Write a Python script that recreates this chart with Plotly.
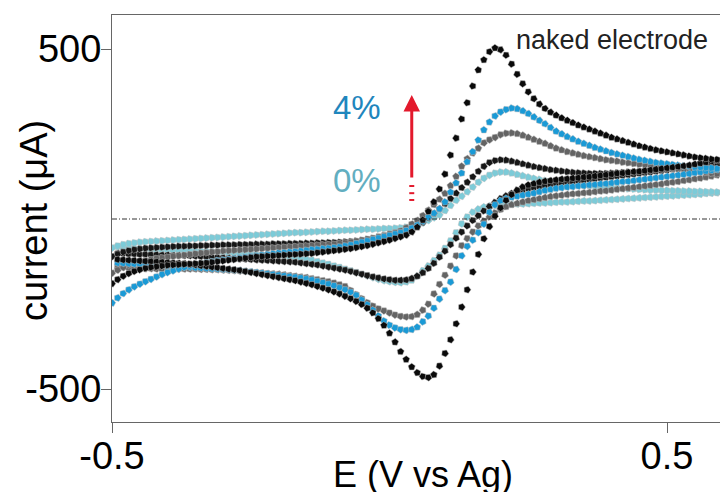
import plotly.graph_objects as go

# Potential grid (V vs Ag), shared by all scans
E = [-0.50, -0.49, -0.48, -0.47, -0.46, -0.45, -0.44, -0.43, -0.42, -0.41,
     -0.40, -0.39, -0.38, -0.37, -0.36, -0.35, -0.34, -0.33, -0.32, -0.31,
     -0.30, -0.29, -0.28, -0.27, -0.26, -0.25, -0.24, -0.23, -0.22, -0.21,
     -0.20, -0.19, -0.18, -0.17, -0.16, -0.15, -0.14, -0.13, -0.12, -0.11,
     -0.10, -0.09, -0.08, -0.07, -0.06, -0.05, -0.04, -0.03, -0.02, -0.01,
     0.00, 0.01, 0.02, 0.03, 0.04, 0.05, 0.06, 0.07, 0.08, 0.09,
     0.10, 0.11, 0.12, 0.13, 0.14, 0.15, 0.16, 0.17, 0.18, 0.19,
     0.20, 0.21, 0.22, 0.23, 0.24, 0.25, 0.26, 0.27, 0.28, 0.29,
     0.30, 0.31, 0.32, 0.33, 0.34, 0.35, 0.36, 0.37, 0.38, 0.39,
     0.40, 0.41, 0.42, 0.43, 0.44, 0.45, 0.46, 0.47, 0.48, 0.49,
     0.50, 0.51, 0.52, 0.53, 0.54, 0.55, 0.56, 0.57, 0.58, 0.59, 0.60]

# Currents (uA) on the grid above. "low" = rightward branch, "up" = leftward branch
naked_low = [-118, -119, -120, -121, -122, -123, -124, -125, -126, -127,
             -128, -129, -130, -131, -133, -135, -137, -139, -141, -143,
             -145, -147, -149, -151, -154, -157, -160, -163, -166, -169,
             -172, -175, -178, -181, -185, -189, -193, -198, -203, -208,
             -214, -220, -227, -234, -242, -251, -262, -276, -293, -313,
             -336, -362, -390, -413, -435, -452, -463, -466, -458, -432,
             -395, -355, -308, -259, -208, -156, -104, -58, -22, 9,
             33, 55, 72, 85, 94, 100, 104, 108, 111, 113,
             115, 117, 118, 120, 121, 123, 124, 126, 128, 130,
             132, 134, 135, 137, 139, 140, 142, 144, 146, 148,
             150, 152, 154, 156, 158, 161, 164, 167, 170, 172, 174]
naked_up = [-190, -178, -168, -160, -154, -149, -145, -142, -140, -138,
            -136, -135, -134, -133, -132, -131, -130, -129, -127, -125,
            -123, -121, -119, -117, -115, -113, -111, -110, -109, -108,
            -107, -106, -105, -104, -103, -102, -101, -99, -97, -95,
            -93, -91, -89, -87, -84, -81, -78, -74, -70, -66,
            -62, -57, -52, -47, -38, -24, -3, 22, 50, 88,
            132, 188, 238, 294, 342, 391, 438, 468, 492, 503,
            498, 482, 456, 426, 398, 374, 354, 338, 325, 314,
            305, 297, 290, 283, 276, 270, 264, 258, 252, 246,
            240, 235, 230, 225, 220, 215, 211, 207, 203, 200,
            197, 194, 191, 188, 185, 182, 180, 178, 176, 175, 174]

p4_low = [-128, -129, -130, -131, -132, -133, -134, -135, -136, -137,
          -138, -139, -140, -141, -142, -143, -144, -145, -146, -147,
          -148, -149, -150, -151, -153, -155, -157, -159, -161, -163,
          -165, -167, -169, -171, -173, -176, -179, -183, -187, -191,
          -196, -202, -208, -215, -224, -238, -252, -268, -285, -300,
          -312, -320, -325, -327, -325, -318, -302, -285, -262, -235,
          -210, -185, -148, -108, -80, -62, -40, -15, 20, 42,
          54, 60, 64, 67, 70, 73, 76, 80, 84, 87,
          90, 92, 94, 95, 97, 98, 100, 101, 103, 104,
          106, 108, 110, 111, 113, 115, 117, 119, 121, 123,
          125, 127, 129, 131, 133, 136, 138, 141, 143, 145, 147]
p4_up = [-247, -232, -219, -208, -199, -191, -184, -177, -170, -163,
         -157, -152, -147, -142, -138, -134, -131, -128, -125, -122,
         -120, -118, -116, -114, -112, -110, -108, -106, -104, -102,
         -100, -99, -97, -96, -94, -92, -90, -89, -87, -86,
         -84, -82, -79, -76, -72, -68, -64, -60, -56, -52,
         -48, -44, -40, -34, -27, -18, -7, 5, 17, 30,
         50, 79, 106, 135, 168, 198, 232, 262, 285, 303,
         315, 322, 326, 324, 318, 310, 300, 290, 280, 269,
         258, 250, 242, 235, 228, 222, 216, 210, 205, 200,
         195, 191, 187, 183, 179, 175, 172, 169, 166, 164,
         162, 160, 158, 156, 155, 153, 152, 151, 150, 148, 147]

gray_low = [-140, -141, -142, -143, -144, -145, -146, -146, -147, -147,
            -147, -147, -147, -147, -147, -147, -148, -148, -149, -149,
            -150, -151, -152, -153, -154, -156, -157, -158, -160, -161,
            -162, -164, -166, -168, -170, -172, -175, -178, -181, -184,
            -188, -193, -198, -210, -222, -234, -246, -256, -264, -270,
            -276, -282, -286, -288, -287, -281, -268, -250, -220, -192,
            -165, -138, -108, -78, -57, -38, -20, -6, 6, 18,
            28, 36, 42, 46, 50, 54, 57, 60, 63, 66,
            68, 70, 72, 74, 75, 77, 78, 80, 82, 83,
            85, 87, 89, 91, 93, 95, 97, 99, 101, 103,
            106, 108, 110, 113, 115, 118, 120, 123, 126, 129, 132]
gray_up = [-159, -150, -142, -135, -130, -126, -122, -119, -116, -114,
           -112, -110, -108, -106, -104, -102, -100, -99, -97, -96,
           -94, -93, -92, -91, -90, -89, -88, -87, -86, -85,
           -84, -83, -82, -81, -80, -79, -78, -77, -76, -75,
           -74, -72, -70, -68, -65, -62, -59, -56, -52, -48,
           -44, -40, -35, -26, -15, -4, 10, 26, 42, 58,
           75, 98, 125, 155, 177, 194, 208, 224, 233, 240,
           248, 252, 253, 251, 246, 240, 234, 228, 222, 215,
           208, 203, 198, 194, 190, 186, 183, 180, 177, 174,
           172, 170, 167, 165, 163, 161, 159, 157, 155, 153,
           151, 149, 147, 145, 143, 141, 139, 137, 135, 133, 132]

black_low = [-100, -101, -102, -103, -103, -104, -104, -105, -105, -106,
             -106, -107, -107, -108, -108, -109, -110, -111, -112, -113,
             -114, -115, -116, -117, -118, -119, -120, -121, -122, -123,
             -124, -125, -126, -127, -129, -131, -133, -135, -138, -141,
             -144, -147, -150, -154, -158, -162, -166, -170, -173, -176,
             -178, -180, -180, -179, -175, -168, -158, -145, -130, -112,
             -94, -75, -56, -38, -20, -4, 10, 24, 37, 49,
             60, 68, 75, 80, 85, 89, 92, 95, 98, 101,
             104, 106, 108, 110, 112, 114, 116, 118, 120, 122,
             124, 126, 128, 130, 132, 134, 136, 138, 140, 142,
             144, 146, 148, 150, 152, 154, 156, 158, 160, 161, 162]
black_up = [-110, -103, -97, -93, -90, -88, -86, -85, -84, -83,
            -82, -81, -80, -80, -79, -79, -78, -78, -77, -77,
            -76, -76, -76, -75, -75, -75, -74, -74, -74, -73,
            -73, -73, -72, -72, -72, -71, -71, -70, -70, -69,
            -69, -68, -67, -66, -65, -64, -62, -60, -58, -56,
            -53, -50, -46, -40, -32, -22, -10, 3, 16, 30,
            45, 60, 76, 92, 108, 124, 140, 155, 166, 172,
            174, 173, 170, 166, 162, 158, 154, 151, 148, 145,
            143, 141, 139, 137, 136, 135, 134, 134, 134, 134,
            135, 136, 137, 138, 139, 140, 142, 143, 145, 146,
            148, 149, 151, 152, 154, 155, 157, 158, 160, 161, 162]

p0_low = [-80, -82, -84, -85, -86, -87, -88, -89, -90, -90,
          -91, -92, -92, -93, -93, -94, -95, -95, -96, -97,
          -98, -99, -100, -101, -102, -103, -104, -105, -106, -107,
          -108, -109, -111, -113, -115, -118, -121, -125, -129, -133,
          -138, -142, -147, -152, -157, -162, -167, -172, -177, -181,
          -184, -186, -187, -185, -180, -168, -152, -138, -122, -106,
          -86, -64, -40, -14, 6, 20, 29, 35, 38, 40,
          41, 42, 43, 44, 44, 45, 46, 47, 47, 48,
          49, 50, 50, 51, 52, 53, 53, 54, 55, 56,
          57, 58, 59, 60, 61, 62, 63, 64, 65, 66,
          67, 68, 69, 70, 71, 72, 73, 75, 76, 77, 78]
p0_up = [-85, -79, -75, -72, -70, -68, -67, -66, -65, -64,
         -63, -62, -61, -60, -59, -58, -57, -56, -55, -54,
         -53, -52, -51, -50, -49, -48, -47, -46, -45, -44,
         -43, -42, -41, -40, -40, -39, -38, -37, -36, -36,
         -35, -34, -33, -33, -32, -31, -30, -30, -29, -28,
         -28, -27, -26, -24, -21, -17, -11, -4, 4, 12,
         25, 40, 55, 67, 80, 94, 108, 120, 129, 135,
         138, 138, 135, 131, 127, 123, 119, 116, 113, 111,
         108, 106, 104, 102, 101, 99, 98, 96, 95, 94,
         92, 91, 90, 89, 88, 87, 86, 85, 85, 84,
         84, 83, 83, 82, 82, 81, 81, 80, 80, 79, 78]

series = [
    ("0%", p0_low, p0_up, "#7ccbd8"),
    ("1%", black_low, black_up, "#161616"),
    ("2%", gray_low, gray_up, "#646464"),
    ("4%", p4_low, p4_up, "#1a9ad6"),
    ("naked electrode", naked_low, naked_up, "#0a0a0a"),
]

FONT = "Liberation Sans, Arial, Helvetica, sans-serif"

fig = go.Figure()
for name, low, up, col in series:
    fig.add_trace(go.Scatter(
        x=E + E[::-1],
        y=low + up[::-1],
        mode="markers",
        name=name,
        marker=dict(symbol="pentagon", size=7.5, color=col, angleref="previous",
                    line=dict(width=0.6, color="rgba(190,190,190,0.8)")),
        showlegend=False,
        hoverinfo="skip",
    ))

# dashed zero line
fig.add_shape(type="line", xref="paper", yref="y", x0=0, x1=1, y0=0, y1=0,
              line=dict(color="#333333", width=1, dash="5px,2px,1px,2px"))

# red arrow and its dotted tail
fig.add_annotation(x=0.0401, y=365, xref="x", yref="y", ax=0, ay=84,
                   axref="pixel", ayref="pixel", text="", showarrow=True,
                   arrowhead=2, arrowsize=1.1, arrowwidth=3, arrowcolor="#e3192c",
                   standoff=0, startstandoff=0)
for yv in [97, 76, 56]:
    fig.add_shape(type="line", xref="x", yref="y", x0=0.0356, x1=0.0446, y0=yv, y1=yv,
                  line=dict(color="#e3192c", width=2))

fig.add_annotation(x=0.2245, y=526, xref="x", yref="y", text="naked electrode",
                   showarrow=False, xanchor="left", yanchor="middle",
                   font=dict(family=FONT, size=27, color="#222222"))
fig.add_annotation(x=-0.059, y=327, xref="x", yref="y", text="4%",
                   showarrow=False, xanchor="center", yanchor="middle",
                   font=dict(family=FONT, size=33, color="#1f86bd"))
fig.add_annotation(x=-0.059, y=112, xref="x", yref="y", text="0%",
                   showarrow=False, xanchor="center", yanchor="middle",
                   font=dict(family=FONT, size=33, color="#62aec0"))

# axis titles as annotations
fig.add_annotation(x=-0.128, y=0.494, xref="paper", yref="paper", text="current (μA)",
                   textangle=-90, showarrow=False, xanchor="center", yanchor="middle",
                   font=dict(family=FONT, size=38, color="#000000"))
fig.add_annotation(x=0.5115, y=-0.13, xref="paper", yref="paper", text="E (V vs Ag)",
                   showarrow=False, xanchor="center", yanchor="middle",
                   font=dict(family=FONT, size=36, color="#000000"))

fig.update_layout(
    width=720, height=492,
    margin=dict(l=112, r=0, t=15, b=70),
    paper_bgcolor="white", plot_bgcolor="white",
    font=dict(family=FONT, color="#000000"),
    xaxis=dict(range=[-0.5, 0.5955], tickvals=[-0.5, 0.5], ticktext=["-0.5", "0.5"],
               ticks="outside", ticklen=10, tickcolor="#666666", tickwidth=1,
               showline=True, linecolor="#666666", linewidth=1, mirror=True,
               showgrid=False, zeroline=False, ticklabelstandoff=-10,
               tickfont=dict(family=FONT, size=38, color="#000000")),
    yaxis=dict(range=[-597, 600], tickvals=[-500, 500], ticktext=["-500", "500"],
               ticks="outside", ticklen=10, tickcolor="#666666", tickwidth=1,
               showline=True, linecolor="#666666", linewidth=1,
               showgrid=False, zeroline=False, ticklabelstandoff=-8,
               tickfont=dict(family=FONT, size=38, color="#000000")),
)

# remove the default page margin so the 720x492 figure fills the window exactly
fig.write_html("out.html",
               config={"displayModeBar": False, "staticPlot": True},
               post_script="document.body.style.margin='0';"
                           "document.documentElement.style.overflow='hidden';"
                           "document.body.style.overflow='hidden';")
